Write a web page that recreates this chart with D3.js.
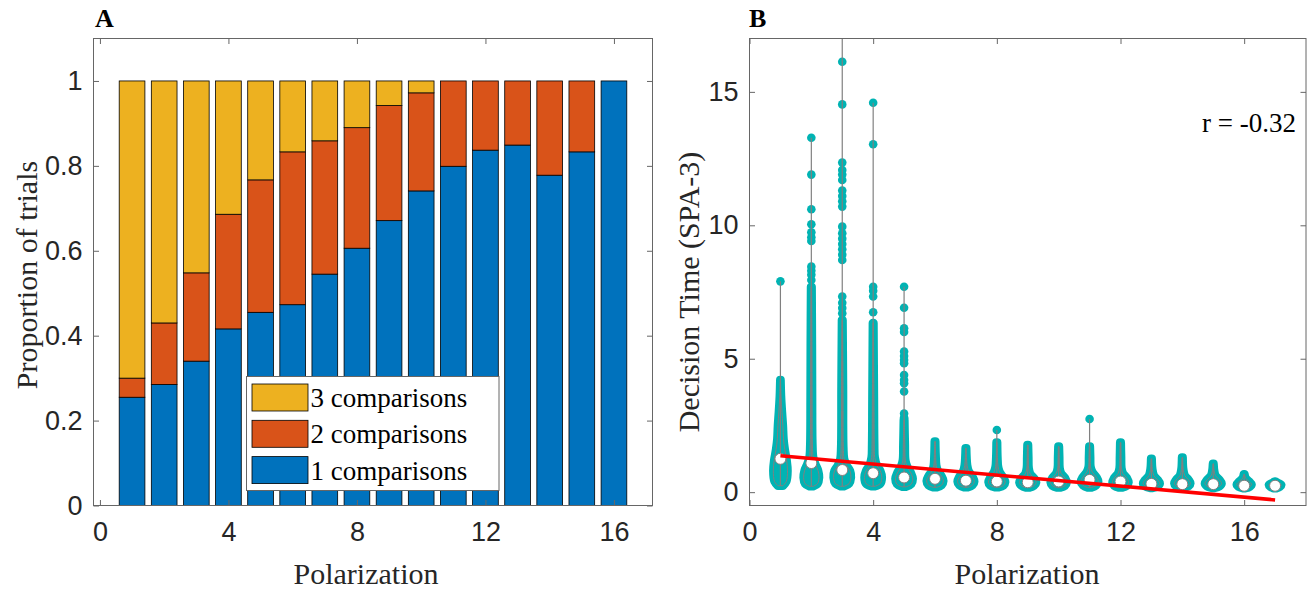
<!DOCTYPE html>
<html>
<head>
<meta charset="utf-8">
<script src="https://cdn.jsdelivr.net/npm/d3@7"></script>
<style>
  body { margin: 0; background: #fff; }
  svg { font-family: "Liberation Serif", "Times New Roman", serif; }
  .tick text { fill: #262626; font-size: 27px; }
</style>
</head>
<body>
<div id="chart"></div>
<script>
// ---------- panel A data ----------
const polarization = [1, 2, 3, 4, 5, 6, 7, 8, 9, 10, 11, 12, 13, 14, 15, 16];
const oneComp   = [0.255, 0.285, 0.340, 0.416, 0.455, 0.473, 0.545, 0.606, 0.671, 0.741, 0.799, 0.837, 0.849, 0.778, 0.833, 1.000];
const twoComp   = [0.045, 0.145, 0.208, 0.270, 0.312, 0.360, 0.314, 0.284, 0.271, 0.231, 0.201, 0.163, 0.151, 0.222, 0.167, 0.000];
const threeComp = [0.700, 0.570, 0.452, 0.314, 0.233, 0.167, 0.141, 0.110, 0.058, 0.028, 0.000, 0.000, 0.000, 0.000, 0.000, 0.000];
const barKeys = ['one', 'two', 'three'];
const legendLabels = ['3 comparisons', '2 comparisons', '1 comparisons'];
const xTicks = [0, 4, 8, 12, 16];
const yTicksA = [0, 0.2, 0.4, 0.6, 0.8, 1];

// ---------- panel B data ----------
const groupsB = [1, 2, 3, 4, 5, 6, 7, 8, 9, 10, 11, 12, 13, 14, 15, 16, 17];
const medians = [1.25, 1.09, 0.83, 0.71, 0.55, 0.50, 0.43, 0.40, 0.37, 0.40, 0.46, 0.40, 0.31, 0.30, 0.30, 0.24, 0.24];
// violin outlines: [value, half width]
const violins = [
  [[0.24,0.08],[0.4,0.19],[0.8,0.23],[1.2,0.2],[1.6,0.14],[2.0,0.1],[2.5,0.08],[3.0,0.05],[3.6,0.02],[4.2,0.005]],
  [[0.22,0.06],[0.32,0.2],[0.55,0.25],[0.8,0.22],[1.05,0.13],[1.3,0.06],[1.8,0.035],[3.5,0.025],[5.5,0.02],[7.7,0.01]],
  [[0.22,0.06],[0.32,0.22],[0.55,0.28],[0.8,0.25],[1.0,0.14],[1.25,0.06],[1.7,0.035],[4.0,0.025],[6.45,0.01]],
  [[0.22,0.06],[0.32,0.23],[0.55,0.28],[0.8,0.23],[1.0,0.12],[1.3,0.05],[1.8,0.035],[3.5,0.025],[6.34,0.01]],
  [[0.2,0.06],[0.3,0.23],[0.5,0.28],[0.72,0.22],[0.95,0.1],[1.2,0.04],[1.8,0.025],[2.7,0.01]],
  [[0.18,0.05],[0.26,0.21],[0.42,0.27],[0.6,0.21],[0.8,0.09],[1.0,0.04],[1.4,0.02],[1.9,0.01]],
  [[0.18,0.05],[0.26,0.21],[0.4,0.27],[0.58,0.21],[0.78,0.09],[1.0,0.04],[1.3,0.02],[1.65,0.01]],
  [[0.18,0.05],[0.25,0.21],[0.38,0.27],[0.55,0.21],[0.75,0.09],[0.95,0.04],[1.3,0.02],[1.86,0.01]],
  [[0.17,0.05],[0.24,0.2],[0.36,0.27],[0.5,0.22],[0.68,0.08],[0.9,0.03],[1.3,0.02],[1.77,0.01]],
  [[0.17,0.05],[0.24,0.2],[0.37,0.26],[0.52,0.21],[0.7,0.08],[0.9,0.03],[1.3,0.02],[1.71,0.01]],
  [[0.17,0.05],[0.25,0.21],[0.4,0.28],[0.56,0.22],[0.75,0.09],[0.95,0.03],[1.3,0.02],[1.71,0.01]],
  [[0.17,0.05],[0.24,0.2],[0.37,0.26],[0.52,0.21],[0.7,0.08],[0.9,0.03],[1.3,0.02],[1.86,0.01]],
  [[0.16,0.05],[0.22,0.2],[0.33,0.27],[0.46,0.2],[0.62,0.08],[0.85,0.03],[1.25,0.01]],
  [[0.16,0.05],[0.22,0.2],[0.33,0.26],[0.46,0.2],[0.62,0.08],[0.85,0.03],[1.3,0.01]],
  [[0.16,0.05],[0.22,0.2],[0.33,0.27],[0.46,0.2],[0.62,0.07],[0.8,0.03],[1.06,0.01]],
  [[0.15,0.05],[0.2,0.18],[0.29,0.24],[0.4,0.16],[0.52,0.05],[0.67,0.01]],
  [[0.15,0.05],[0.2,0.15],[0.27,0.2],[0.34,0.1],[0.4,0.01]]
];
// individual points above the dense part
const tailPoints = [
  [7.9, 3.6, 3.4, 3.2, 3.0, 2.6],
  [13.28, 11.9, 10.6, 10.04, 9.74, 9.55, 9.41, 8.45, 8.3, 8.15, 7.95],
  [17.5, 16.13, 14.53, 12.35, 12.07, 11.9, 11.7, 11.3, 11.1, 10.9, 10.7, 9.95, 9.7, 9.5, 9.3, 9.1, 8.9, 8.7, 7.33, 7.1, 6.9, 6.7],
  [14.59, 13.04, 7.7, 7.55, 7.33, 6.74],
  [7.7, 6.91, 6.14, 6.0, 5.27, 5.1, 4.95, 4.83, 4.39, 4.2, 4.08, 3.77, 2.95, 2.8],
  [], [], [2.33], [], [], [2.74], [], [], [], [], [], []
];
const fitX = [1, 17];
const fitY = [1.36, -0.29];
const yTicksB = [0, 5, 10, 15];

const colors = {one: '#0072BD', two: '#D95319', three: '#EDB120'};
const teal = '#00B3B3', gray = '#808080', axisColor = '#666';

const svg = d3.select('#chart').append('svg').attr('width', 1311).attr('height', 590);

// ---------- helpers ----------
function drawBox(g, x, y, xt, yt, yFmt) {
  const [x0, x1] = x.range(), [y0, y1] = y.range();
  g.append('g').attr('transform', 'translate(0,' + y0 + ')')
    .call(d3.axisBottom(x).tickValues(xt).tickSizeInner(-5.5).tickSizeOuter(0).tickPadding(16))
    .call(a => a.select('.domain').remove());
  g.append('g').attr('transform', 'translate(0,' + y1 + ')')
    .call(d3.axisTop(x).tickValues(xt).tickSizeInner(-5.5).tickSizeOuter(0).tickFormat(''))
    .call(a => a.select('.domain').remove());
  g.append('g').attr('transform', 'translate(' + x0 + ',0)')
    .call(d3.axisLeft(y).tickValues(yt).tickSizeInner(-5.5).tickSizeOuter(0).tickPadding(11).tickFormat(yFmt))
    .call(a => a.select('.domain').remove());
  g.append('g').attr('transform', 'translate(' + x1 + ',0)')
    .call(d3.axisRight(y).tickValues(yt).tickSizeInner(-5.5).tickSizeOuter(0).tickFormat(''))
    .call(a => a.select('.domain').remove());
  g.selectAll('.tick line').attr('stroke', axisColor);
  g.selectAll('.tick text').attr('font-family', null).attr('font-size', null);
  g.append('rect').attr('x', x0).attr('y', y1).attr('width', x1 - x0).attr('height', y0 - y1)
    .attr('fill', 'none').attr('stroke', axisColor).attr('stroke-width', 1);
}

// ---------- panel A ----------
const xA = d3.scaleLinear().domain([-0.2, 17.2]).range([93.5, 652.5]);
const yA = d3.scaleLinear().domain([0, 1.1]).range([505.5, 38.5]);
const gA = svg.append('g');

const table = polarization.map((p, i) => ({p: p, one: oneComp[i], two: twoComp[i], three: threeComp[i]}));
const stacked = d3.stack().keys(barKeys)(table);
const bw = xA(0.8) - xA(0);
gA.selectAll('g.layer').data(stacked).enter().append('g')
  .attr('class', 'layer')
  .attr('fill', d => colors[d.key])
  .selectAll('rect').data(d => d.filter(s => s[1] - s[0] > 0)).enter().append('rect')
  .attr('x', d => xA(d.data.p) - bw / 2)
  .attr('width', bw)
  .attr('y', d => yA(d[1]))
  .attr('height', d => yA(d[0]) - yA(d[1]))
  .attr('stroke', '#000').attr('stroke-width', 0.8);

drawBox(gA, xA, yA, xTicks, yTicksA, d => String(d));

// legend
const leg = gA.append('g').attr('transform', 'translate(246.5,376.5)');
leg.append('rect').attr('width', 252.5).attr('height', 114).attr('fill', '#fff').attr('stroke', axisColor);
['three', 'two', 'one'].forEach((k, i) => {
  leg.append('rect').attr('x', 5.5).attr('y', 7.5 + i * 36.3).attr('width', 56).attr('height', 27)
    .attr('fill', colors[k]).attr('stroke', '#000').attr('stroke-width', 0.8);
  leg.append('text').attr('x', 64).attr('y', 30.5 + i * 36.3).attr('font-size', 27).attr('fill', '#000')
    .text(legendLabels[i]);
});

gA.append('text').attr('x', 366).attr('y', 584).attr('text-anchor', 'middle').attr('font-size', 30)
  .attr('fill', '#262626').text('Polarization');
gA.append('text').attr('transform', 'translate(37,275) rotate(-90)').attr('text-anchor', 'middle')
  .attr('font-size', 30).attr('fill', '#262626').text('Proportion of trials');
gA.append('text').attr('x', 95).attr('y', 27).attr('font-size', 26).attr('font-weight', 'bold').text('A');

// ---------- panel B ----------
const xB = d3.scaleLinear().domain([0, 18]).range([749.5, 1306]);
const yB = d3.scaleLinear().domain([-0.5, 17]).range([505.5, 38.5]);
const gB = svg.append('g');

svg.append('defs').append('clipPath').attr('id', 'clipB').append('rect')
  .attr('x', 749.5).attr('y', 38.5).attr('width', 1306 - 749.5).attr('height', 505.5 - 38.5);
const plotB = gB.append('g').attr('clip-path', 'url(#clipB)');

const violinArea = (g) => d3.area()
  .y(d => yB(d[0]))
  .x0(d => xB(g - d[1]))
  .x1(d => xB(g + d[1]))
  .curve(d3.curveCatmullRom);

groupsB.forEach((g, i) => {
  const shape = violins[i];
  const vg = plotB.append('g');
  // dense scatter of points, drawn as the filled violin body
  vg.append('path').attr('d', violinArea(g)(shape))
    .attr('fill', teal).attr('stroke', teal).attr('stroke-width', 8.5).attr('stroke-linejoin', 'round');
  vg.selectAll('circle.pt').data(tailPoints[i]).enter().append('circle')
    .attr('class', 'pt')
    .attr('cx', xB(g)).attr('cy', d => yB(d)).attr('r', 4.3).attr('fill', teal);
  // violin edge
  vg.append('path').attr('d', violinArea(g)(shape))
    .attr('fill', 'none').attr('stroke', gray).attr('stroke-width', 1);
  const top = Math.max(shape[shape.length - 1][0], d3.max(tailPoints[i]) || 0);
  vg.append('line').attr('x1', xB(g)).attr('x2', xB(g))
    .attr('y1', yB(shape[0][0])).attr('y2', yB(top))
    .attr('stroke', gray).attr('stroke-width', 1.2);
  vg.append('circle').attr('cx', xB(g)).attr('cy', yB(medians[i])).attr('r', 5.5)
    .attr('fill', '#fff').attr('stroke', gray).attr('stroke-width', 1);
});

plotB.append('line')
  .attr('x1', xB(fitX[0])).attr('y1', yB(fitY[0]))
  .attr('x2', xB(fitX[1])).attr('y2', yB(fitY[1]))
  .attr('stroke', '#FF0000').attr('stroke-width', 3.5);

drawBox(gB, xB, yB, xTicks, yTicksB, d => String(d));

gB.append('text').attr('x', 1027).attr('y', 584).attr('text-anchor', 'middle').attr('font-size', 30)
  .attr('fill', '#262626').text('Polarization');
gB.append('text').attr('transform', 'translate(699,292) rotate(-90)').attr('text-anchor', 'middle')
  .attr('font-size', 30).attr('fill', '#262626').text('Decision Time (SPA-3)');
gB.append('text').attr('x', 749).attr('y', 27).attr('font-size', 26).attr('font-weight', 'bold').text('B');
gB.append('text').attr('x', 1296).attr('y', 132).attr('text-anchor', 'end').attr('font-size', 27)
  .attr('fill', '#000').text('r = -0.32');
</script>
</body>
</html>
